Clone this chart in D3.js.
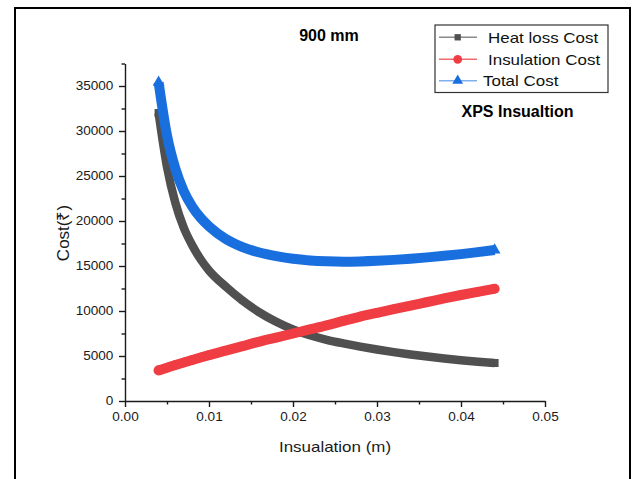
<!DOCTYPE html>
<html>
<head>
<meta charset="utf-8">
<script src="https://cdn.jsdelivr.net/npm/d3@7"></script>
<style>
  body { margin: 0; background: #fff; }
  svg { display: block; font-family: "Liberation Sans", Arial, sans-serif; }
</style>
</head>
<body>
<div id="chart"></div>
<script>
// insulation thickness (m)
const thickness = [0.004, 0.005, 0.006, 0.007, 0.008, 0.009, 0.010, 0.012, 0.014, 0.016, 0.018, 0.020,
  0.022, 0.024, 0.026, 0.028, 0.030, 0.032, 0.034, 0.036, 0.038, 0.040, 0.042, 0.044];
const heatLossCost = [32000, 26000, 22000, 19250, 17300, 15750, 14500, 12700, 11150, 9850, 8800, 7950,
  7300, 6800, 6400, 6045, 5725, 5435, 5175, 4940, 4725, 4530, 4365, 4220];
const insulationCost = [3400, 3700, 4000, 4280, 4550, 4830, 5100, 5600, 6100, 6600, 7050, 7500,
  7950, 8400, 8900, 9380, 9800, 10200, 10600, 11000, 11400, 11780, 12130, 12470];
const totalCost = [35400, 29500, 25800, 23300, 21600, 20350, 19400, 18000, 17100, 16500, 16100, 15800,
  15620, 15520, 15480, 15510, 15580, 15680, 15810, 15960, 16130, 16320, 16540, 16780];

const xTicks = [0, 0.01, 0.02, 0.03, 0.04, 0.05];
const xMinor = [0.005, 0.015, 0.025, 0.035, 0.045];
const yTicks = [0, 5000, 10000, 15000, 20000, 25000, 30000, 35000];
const yMinor = [2500, 7500, 12500, 17500, 22500, 27500, 32500, 37500];

const seriesNames = ["Heat loss Cost", "Insulation Cost", "Total Cost"];
const colors = ["#505050", "#ef3d43", "#1a6fdf"];
const legendLine = ["#8a8a8a", "#f06a6e", "#7fb0ee"];

const width = 632, height = 479;
const stretch = "scale(1.13,1)";

const svg = d3.select("#chart").append("svg")
  .attr("width", width)
  .attr("height", height);

svg.append("rect")
  .attr("width", width).attr("height", height)
  .attr("fill", "#fff");

// outer frame (bottom edge runs off the page)
svg.append("rect")
  .attr("x", 15).attr("y", 8)
  .attr("width", 615).attr("height", 500)
  .attr("fill", "none")
  .attr("stroke", "#000")
  .attr("stroke-width", 2);

const xScale = d3.scaleLinear().domain([0, 0.05]).range([125, 545]);
const yScale = d3.scaleLinear().domain([0, 37500]).range([401, 63.5]);

// axes
svg.append("g")
  .attr("transform", `translate(0, ${yScale(0)})`)
  .call(d3.axisBottom(xScale).tickValues(xTicks).tickFormat(d3.format(".2f"))
    .tickSize(6).tickSizeOuter(0).tickPadding(5));

svg.append("g")
  .attr("transform", `translate(0, ${yScale(0)})`)
  .call(d3.axisBottom(xScale).tickValues(xMinor).tickFormat("").tickSize(3.5).tickSizeOuter(0))
  .select(".domain").remove();

svg.append("g")
  .attr("transform", `translate(${xScale(0)}, 0)`)
  .call(d3.axisLeft(yScale).tickValues(yTicks).tickFormat(d3.format("d"))
    .tickSize(6).tickSizeOuter(0).tickPadding(4.3));

svg.append("g")
  .attr("transform", `translate(${xScale(0)}, 0)`)
  .call(d3.axisLeft(yScale).tickValues(yMinor).tickFormat("").tickSize(3.5).tickSizeOuter(0))
  .select(".domain").remove();

svg.selectAll(".domain, .tick line")
  .attr("stroke", "#1a1a1a")
  .attr("stroke-width", 1.4);

svg.selectAll(".tick text")
  .attr("fill", "#1a1a1a")
  .style("font-size", "12px")
  .style("font-family", "'Liberation Sans', Arial, sans-serif")
  .attr("transform", stretch);

// axis titles
svg.append("text")
  .attr("transform", `translate(335, 452) ${stretch}`)
  .attr("text-anchor", "middle")
  .style("font-size", "15px")
  .attr("fill", "#1a1a1a")
  .text("Insualation (m)");

svg.append("text")
  .attr("transform", "translate(68.5, 233) rotate(-90)")
  .attr("text-anchor", "middle")
  .style("font-size", "17px")
  .attr("fill", "#1a1a1a")
  .text("Cost(₹)");

// titles
svg.append("text")
  .attr("x", 329).attr("y", 41)
  .attr("text-anchor", "middle")
  .style("font-size", "16px")
  .style("font-weight", "bold")
  .text("900 mm");

svg.append("text")
  .attr("x", 517.5).attr("y", 116.5)
  .attr("text-anchor", "middle")
  .style("font-size", "16px")
  .style("font-weight", "bold")
  .text("XPS Insualtion");

// series: a thick band of markers, drawn as a wide line plus the symbols
const seriesValues = [heatLossCost, insulationCost, totalCost];
const symbols = [d3.symbolSquare, d3.symbolCircle, d3.symbolTriangle];
const bandWidths = [8.5, 10, 10];
const innerSizes = [36, 70, 30];
const endSizes = [64, 80, 60];

const line = d3.line()
  .curve(d3.curveMonotoneX)
  .x(d => xScale(d[0]))
  .y(d => yScale(d[1]));

seriesValues.forEach((vals, i) => {
  const pts = thickness.map((t, j) => [t, vals[j]]);
  svg.append("path")
    .datum(pts)
    .attr("d", line)
    .attr("fill", "none")
    .attr("stroke", colors[i])
    .attr("stroke-width", bandWidths[i])
    .attr("stroke-linejoin", "round");

  svg.append("g")
    .selectAll("path")
    .data(pts)
    .join("path")
    .attr("transform", d => `translate(${xScale(d[0])}, ${yScale(d[1])})`)
    .attr("d", (d, j) => d3.symbol(symbols[i], (j === 0 || j === pts.length - 1) ? endSizes[i] : innerSizes[i])())
    .attr("fill", colors[i]);
});

// legend
const legend = svg.append("g");
legend.append("rect")
  .attr("x", 435).attr("y", 25)
  .attr("width", 173).attr("height", 67.5)
  .attr("fill", "#fff")
  .attr("stroke", "#333")
  .attr("stroke-width", 1.2);

const legendRows = [37.3, 59.3, 80.7];
const legendTextX = [488, 488, 483];
const legendSymSizes = [40, 60, 50];

seriesNames.forEach((name, i) => {
  const y = legendRows[i];
  legend.append("line")
    .attr("x1", 439).attr("x2", 477)
    .attr("y1", y).attr("y2", y)
    .attr("stroke", legendLine[i])
    .attr("stroke-width", 1.4);
  legend.append("path")
    .attr("transform", `translate(457.7, ${y})`)
    .attr("d", d3.symbol(symbols[i], legendSymSizes[i]))
    .attr("fill", colors[i]);
  legend.append("text")
    .attr("transform", `translate(${legendTextX[i]}, ${y + 5.2}) ${stretch}`)
    .style("font-size", "15px")
    .attr("fill", "#111")
    .text(name);
});
</script>
</body>
</html>
